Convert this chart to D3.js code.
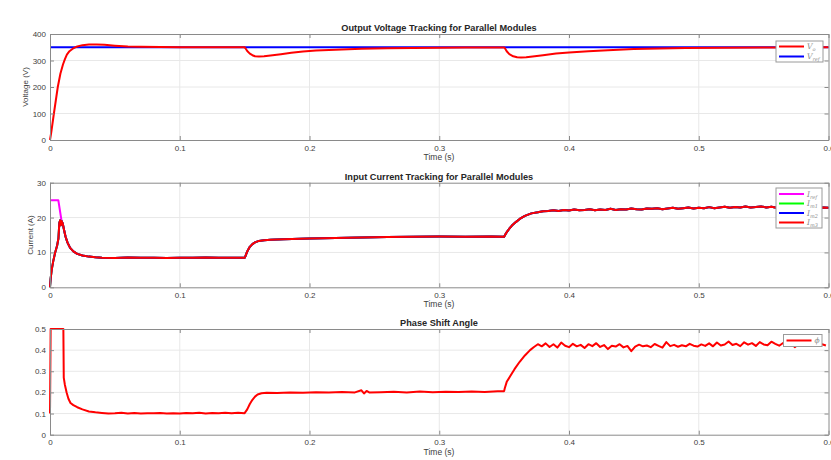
<!DOCTYPE html>
<html>
<head>
<meta charset="utf-8">
<script src="https://cdn.jsdelivr.net/npm/d3@7"></script>
<style>
  body { margin: 0; background: #fff; }
  svg { display: block; font-family: "Liberation Sans", Arial, sans-serif; }
</style>
</head>
<body>
<script>
// time axis shared by all three panels
var xTicks = [0, 0.1, 0.2, 0.3, 0.4, 0.5, 0.6];

// ---- panel 1: voltage ----
var vTicks = [0, 100, 200, 300, 400];
var vRef = [[0, 350], [0.6, 350]];
var vOut = [[0,0],[0.001,30],[0.003,100],[0.0045,150],[0.006,200],[0.008,250],[0.010,285],[0.0115,305],[0.013,322],[0.015,335],
  [0.018,346],[0.021,353],[0.025,358],[0.030,360],[0.036,360],[0.042,359],[0.050,356],[0.060,353],[0.070,351.5],[0.085,350.5],
  [0.100,350],[0.150,350],[0.1505,347],[0.152,336],[0.154,326],[0.156,320],[0.158,316],[0.161,315],[0.165,316],[0.170,319],
  [0.178,324],[0.186,329],[0.195,334],[0.205,337.5],[0.220,341],[0.240,344],[0.260,346],[0.280,347.5],[0.300,348.5],[0.320,349],
  [0.350,349.5],[0.3505,347],[0.352,335],[0.354,324],[0.357,316],[0.360,312],[0.363,311],[0.367,312],[0.372,315],[0.380,320],
  [0.390,326],[0.400,330],[0.415,335],[0.430,339],[0.450,343],[0.470,345.5],[0.490,347],[0.520,348.5],[0.560,349.5],[0.600,350]];

// ---- panel 2: current ----
var iTicks = [0, 10, 20, 30];
var iStart = [[0,0],[0.0005,2.5],[0.0013,5],[0.0025,7.5],[0.004,10],[0.0055,12],[0.0065,14],[0.0072,18.5],[0.0078,19.2],[0.0084,17.8],
  [0.009,19],[0.0098,18.3],[0.0108,16.5],[0.012,14.5],[0.0135,12.8],[0.0155,11.3],[0.018,10.3],[0.021,9.6],[0.025,9.1],[0.03,8.8],
  [0.035,8.6],[0.04,8.5],[0.05,8.4],[0.06,8.55],[0.07,8.45],[0.08,8.5],[0.09,8.4],[0.1,8.5],[0.11,8.45],[0.12,8.55],
  [0.13,8.45],[0.14,8.5],[0.15,8.45],[0.1505,8.8],[0.152,10.3],[0.154,11.6],[0.156,12.4],[0.158,12.9],[0.161,13.3],[0.165,13.5],
  [0.17,13.65],[0.18,13.8],[0.2,14.0],[0.22,14.15],[0.24,14.3],[0.26,14.4],[0.28,14.5],[0.3,14.55],[0.32,14.5],[0.34,14.6],
  [0.35,14.5],[0.3505,14.9],[0.352,15.8],[0.354,16.8],[0.356,17.7],[0.359,18.7],[0.362,19.6],[0.366,20.5],[0.371,21.2],[0.376,21.5],[0.38,21.8]];
// sampled every 0.004 s from 0.384 s
var iNoiseStart = 0.384, iNoiseStep = 0.004;
var iNoise = [21.9,22.1,21.9,22.2,22.0,22.3,22.1,22.2,22.4,22.1,
  22.3,22.2,22.5,22.2,22.4,22.3,22.6,22.4,22.3,22.6,
  22.5,22.7,22.4,22.6,22.8,22.5,22.7,22.9,22.6,22.8,
  22.7,23.0,22.7,22.9,23.1,22.8,23.0,22.9,23.2,22.9,
  23.0,23.2,22.9,23.1,22.8,23.0,23.1,22.8,23.0,22.9,
  22.7,23.0,22.8,22.9,22.8];
var iRefStart = [[0,25],[0.0064,25],[0.009,18.8],[0.0098,18.3]];

// ---- panel 3: phase shift ----
var pTicks = [0, 0.1, 0.2, 0.3, 0.4, 0.5];
var pStart = [[0,0.1],[0.0005,0.5],[0.0103,0.5],[0.0106,0.27],[0.0115,0.235],[0.0128,0.2],[0.0142,0.17],[0.0158,0.15],[0.018,0.14],[0.021,0.13],
  [0.025,0.12],[0.03,0.11],[0.035,0.106],[0.04,0.103],[0.045,0.1],[0.05,0.101],[0.055,0.104],[0.06,0.1],[0.065,0.103],[0.07,0.1],
  [0.075,0.102],[0.08,0.101],[0.085,0.103],[0.09,0.1],[0.095,0.102],[0.1,0.1],[0.105,0.103],[0.11,0.101],[0.115,0.104],[0.12,0.1],
  [0.125,0.103],[0.13,0.102],[0.135,0.104],[0.14,0.101],[0.145,0.104],[0.15,0.102],[0.152,0.12],[0.154,0.145],[0.156,0.165],[0.158,0.18],
  [0.16,0.19],[0.163,0.196],[0.167,0.198],[0.175,0.197],[0.185,0.2],[0.195,0.199],[0.205,0.201],[0.215,0.2],[0.225,0.202],[0.235,0.2],
  [0.24,0.21],[0.242,0.195],[0.244,0.207],[0.246,0.2],[0.255,0.201],[0.265,0.203],[0.275,0.2],[0.285,0.204],[0.295,0.201],[0.305,0.203],
  [0.315,0.202],[0.325,0.204],[0.335,0.202],[0.345,0.205],[0.35,0.206],[0.3505,0.22],[0.352,0.25],[0.355,0.28],[0.358,0.31],[0.362,0.345],
  [0.366,0.375],[0.37,0.4],[0.373,0.415],[0.376,0.428]];
// sampled every 0.003 s from 0.379 s
var pNoiseStart = 0.379, pNoiseStep = 0.003;
var pNoise = [0.418,0.432,0.415,0.428,0.412,0.436,0.421,0.414,0.43,0.418,
  0.425,0.41,0.428,0.419,0.433,0.415,0.424,0.405,0.421,0.417,
  0.428,0.413,0.42,0.395,0.417,0.426,0.418,0.422,0.414,0.429,
  0.42,0.412,0.438,0.419,0.425,0.416,0.423,0.418,0.43,0.421,
  0.417,0.427,0.42,0.432,0.418,0.436,0.422,0.427,0.441,0.424,
  0.43,0.419,0.437,0.426,0.433,0.42,0.438,0.427,0.423,0.44,
  0.43,0.421,0.434,0.428,0.436,0.414,0.429,0.425,0.441,0.43,
  0.426,0.437,0.428,0.422];

function withNoise(start, t0, step, vals) {
  return start.concat(vals.map(function(v, i) { return [t0 + i * step, v]; }));
}
var iMod = withNoise(iStart, iNoiseStart, iNoiseStep, iNoise);
var iRef = iRefStart.concat(iMod.filter(function(d) { return d[0] > 0.0098; }));
var phase = withNoise(pStart, pNoiseStart, pNoiseStep, pNoise);

var W = 831, H = 460;
var svg = d3.select('body').append('svg').attr('width', W).attr('height', H);

var x = d3.scaleLinear().domain([0, 0.6]).range([50, 828.5]);

var textCol = '#404040', axisCol = '#8a8a8a', gridCol = '#e8e8e8';

function panel(p) {
  var y = d3.scaleLinear().domain([p.ticks[0], p.ticks[p.ticks.length - 1]]).range([p.bottom, p.top]);
  var g = svg.append('g');

  // grid
  g.selectAll('.gx').data(xTicks.slice(1, -1)).enter().append('line')
    .attr('x1', function(d) { return x(d); }).attr('x2', function(d) { return x(d); })
    .attr('y1', p.top).attr('y2', p.bottom).attr('stroke', gridCol).attr('stroke-width', 1);
  g.selectAll('.gy').data(p.ticks.slice(1, -1)).enter().append('line')
    .attr('x1', x(0)).attr('x2', x(0.6))
    .attr('y1', function(d) { return y(d); }).attr('y2', function(d) { return y(d); })
    .attr('stroke', gridCol).attr('stroke-width', 1);

  // lines
  p.series.forEach(function(s) {
    g.append('path').datum(s.data)
      .attr('fill', 'none').attr('stroke', s.color).attr('stroke-width', 2)
      .attr('stroke-linejoin', 'round')
      .attr('d', d3.line().x(function(d) { return x(d[0]); }).y(function(d) { return y(d[1]); }));
  });

  // axes with inward ticks
  var fmt = function(d) { return String(d); };
  var xb = g.append('g').attr('transform', 'translate(0,' + p.bottom + ')')
    .call(d3.axisBottom(x).tickValues(xTicks).tickFormat(fmt).tickSizeInner(-4).tickSizeOuter(0).tickPadding(5));
  var xt = g.append('g').attr('transform', 'translate(0,' + p.top + ')')
    .call(d3.axisTop(x).tickValues(xTicks).tickFormat('').tickSizeInner(-4).tickSizeOuter(0));
  var yl = g.append('g').attr('transform', 'translate(' + x(0) + ',0)')
    .call(d3.axisLeft(y).tickValues(p.ticks).tickFormat(fmt).tickSizeInner(-4).tickSizeOuter(0).tickPadding(4));
  var yr = g.append('g').attr('transform', 'translate(' + x(0.6) + ',0)')
    .call(d3.axisRight(y).tickValues(p.ticks).tickFormat('').tickSizeInner(-4).tickSizeOuter(0));
  [xb, xt, yl, yr].forEach(function(a) {
    a.selectAll('path').attr('stroke', axisCol);
    a.selectAll('line').attr('stroke', axisCol);
    a.selectAll('text').attr('fill', textCol).style('font-size', '8px').style('font-family', '"Liberation Sans", Arial, sans-serif');
  });

  // titles
  g.append('text').attr('x', 439).attr('y', p.top - 3).attr('text-anchor', 'middle')
    .attr('fill', '#262626').style('font-size', '9.2px').style('font-weight', 'bold').text(p.title);
  g.append('text').attr('x', 439).attr('y', p.bottom + 20).attr('text-anchor', 'middle')
    .attr('fill', textCol).style('font-size', '8.5px').text('Time (s)');
  if (p.ylabel) {
    g.append('text').attr('transform', 'translate(' + p.ylx + ',' + ((p.top + p.bottom) / 2) + ') rotate(-90)')
      .attr('text-anchor', 'middle').attr('fill', textCol).style('font-size', '8px').text(p.ylabel);
  }

  // legend
  var L = p.legend;
  var lg = g.append('g');
  lg.append('rect').attr('x', L.x).attr('y', L.y).attr('width', L.w).attr('height', L.h)
    .attr('fill', '#fff').attr('stroke', '#9a9a9a').attr('stroke-width', 1);
  L.items.forEach(function(it, i) {
    var yy = L.y + L.first + i * L.gap;
    lg.append('line').attr('x1', L.x + 3).attr('x2', L.x + 28).attr('y1', yy).attr('y2', yy)
      .attr('stroke', it.color).attr('stroke-width', 2);
    var t = lg.append('text').attr('x', L.x + 31).attr('y', yy + 2.5)
      .attr('fill', '#8a8a8a').style('font-family', '"DejaVu Serif", "Liberation Serif", serif')
      .style('font-style', 'italic').style('font-size', '7.5px');
    t.append('tspan').text(it.main);
    if (it.sub) t.append('tspan').attr('dy', 2).style('font-size', '5px').text(it.sub);
  });
}

panel({
  top: 34, bottom: 140, ticks: vTicks, ylabel: 'Voltage (V)', ylx: 27.5,
  title: 'Output Voltage Tracking for Parallel Modules',
  series: [{ data: vRef, color: '#0000ff' }, { data: vOut, color: '#ff0000' }],
  legend: { x: 776, y: 41, w: 47, h: 21, first: 5.5, gap: 10,
    items: [{ main: 'V', sub: 'o', color: '#ff0000' }, { main: 'V', sub: 'ref', color: '#0000ff' }] }
});

panel({
  top: 182.7, bottom: 287.3, ticks: iTicks, ylabel: 'Current (A)', ylx: 32.5,
  title: 'Input Current Tracking for Parallel Modules',
  series: [{ data: iRef, color: '#ff00ff' }, { data: iMod, color: '#00ff00' }, { data: iMod, color: '#0000ff' }, { data: iMod, color: '#ff0000' }],
  legend: { x: 776, y: 188, w: 46, h: 40, first: 6, gap: 9.5,
    items: [{ main: 'I', sub: 'ref', color: '#ff00ff' }, { main: 'I', sub: 'm1', color: '#00ff00' },
            { main: 'I', sub: 'm2', color: '#0000ff' }, { main: 'I', sub: 'm3', color: '#ff0000' }] }
});

panel({
  top: 329, bottom: 434.7, ticks: pTicks, ylabel: null,
  title: 'Phase Shift Angle',
  series: [{ data: phase, color: '#ff0000' }],
  legend: { x: 783.5, y: 334.5, w: 38.5, h: 12, first: 6, gap: 10,
    items: [{ main: '\u03d5', sub: null, color: '#ff0000' }] }
});
</script>
</body>
</html>
